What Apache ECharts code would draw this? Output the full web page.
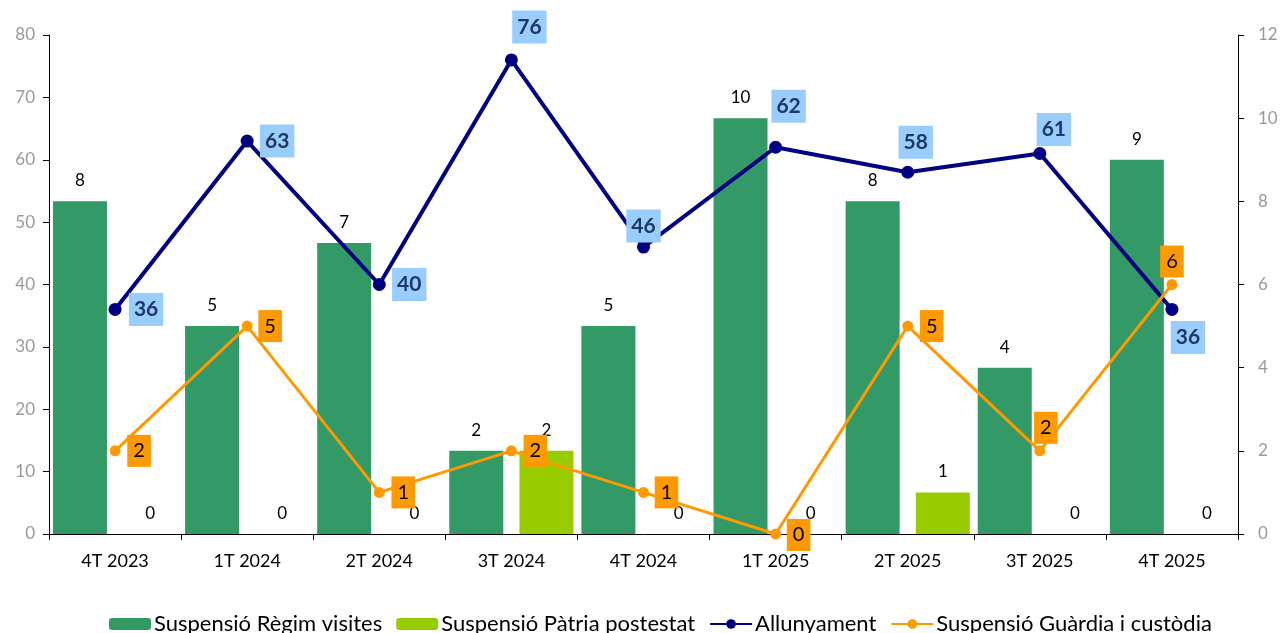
<!DOCTYPE html>
<html><head><meta charset="utf-8">
<script src="https://cdn.jsdelivr.net/npm/echarts@6/dist/echarts.min.js"></script>
<style>html,body{margin:0;padding:0;background:#fff}#c{width:1284px;height:633px}</style>
</head><body><div id="c"></div>
<script>
var categories = ['4T 2023','1T 2024','2T 2024','3T 2024','4T 2024','1T 2025','2T 2025','3T 2025','4T 2025'];
var regimVisites = [8,5,7,2,5,10,8,4,9];
var patriaPotestat = [0,0,0,2,0,0,1,0,0];
var allunyament = [36,63,40,76,46,62,58,61,36];
var guardiaCustodia = [2,5,1,2,1,0,5,2,6];
var leftTicks = {min:0,max:80,interval:10};
var rightTicks = {min:0,max:12,interval:2};

// label offsets (styling, separate from data)
var allOff = [[31,0],[30,0],[30,0],[18,-33],[0,-21],[13,-41],[8,-30],[14,-24],[16,28]];
var guaOff = [[24,0],[23,0],[24,0],[24,0],[23,0],[23,1],[24,0],[6,-23],[0,-23]];

var FONT = 'Lato';
function withOffsets(vals, offs){
  return vals.map(function(v,i){ return {value:v, label:{offset:offs[i]}}; });
}
var chart = echarts.init(document.getElementById('c'));
chart.setOption({
  animation:false,
  textStyle:{fontFamily:FONT},
  grid:{left:49,right:46,top:35,bottom:99,containLabel:false},
  legend:{
    top:608, left:104, itemWidth:42, itemHeight:12, itemGap:14,
    textStyle:{fontFamily:FONT,fontSize:22,color:'#000',padding:[0,0,0,-2]},
    data:['Suspensió Règim visites','Suspensió Pàtria postestat','Allunyament','Suspensió Guàrdia i custòdia']
  },
  xAxis:{type:'category',data:categories,boundaryGap:true,
    axisLine:{lineStyle:{color:'#000',width:1}},
    axisTick:{show:true,alignWithLabel:false,length:6,lineStyle:{color:'#000'}},
    axisLabel:{color:'#000',fontSize:18,margin:18,fontFamily:FONT}},
  yAxis:[
    {type:'value',min:leftTicks.min,max:leftTicks.max,interval:leftTicks.interval,
     splitLine:{show:false},
     axisLine:{show:true,lineStyle:{color:'#000'}},
     axisTick:{show:true,length:6,lineStyle:{color:'#000'}},
     axisLabel:{color:'#999',fontSize:17,margin:14,fontFamily:FONT}},
    {type:'value',min:rightTicks.min,max:rightTicks.max,interval:rightTicks.interval,
     splitLine:{show:false},
     axisLine:{show:true,lineStyle:{color:'#000'}},
     axisTick:{show:true,length:6,lineStyle:{color:'#000'}},
     axisLabel:{color:'#999',fontSize:17,margin:20,fontFamily:FONT}}
  ],
  series:[
    {name:'Suspensió Règim visites',type:'bar',yAxisIndex:1,data:regimVisites,
     barWidth:54,barGap:'30%',
     itemStyle:{color:'#339966'},
     label:{show:true,position:'top',distance:12,color:'#000',fontSize:17,fontFamily:FONT}},
    {name:'Suspensió Pàtria postestat',type:'bar',yAxisIndex:1,data:patriaPotestat,
     barWidth:54,barGap:'30%',
     itemStyle:{color:'#99CC00'},
     label:{show:true,position:'top',distance:12,color:'#000',fontSize:17,fontFamily:FONT}},
    {name:'Allunyament',type:'line',yAxisIndex:0,data:withOffsets(allunyament,allOff),
     z:5,symbol:'circle',symbolSize:13,
     lineStyle:{color:'#000080',width:4},itemStyle:{color:'#000080'},
     label:{show:true,position:'inside',color:'#1F3864',fontWeight:'bold',fontSize:21,fontFamily:FONT,
       backgroundColor:'#99CCFF',padding:[7,5,5,5]}},
    {name:'Suspensió Guàrdia i custòdia',type:'line',yAxisIndex:1,data:withOffsets(guardiaCustodia,guaOff),
     z:6,symbol:'circle',symbolSize:11,
     lineStyle:{color:'#FF9900',width:3},itemStyle:{color:'#FF9900'},
     label:{show:true,position:'inside',color:'#000',fontSize:20,fontFamily:FONT,
       backgroundColor:'#FF9900',padding:[7,6,5,6]}}
  ]
});
</script></body></html>
